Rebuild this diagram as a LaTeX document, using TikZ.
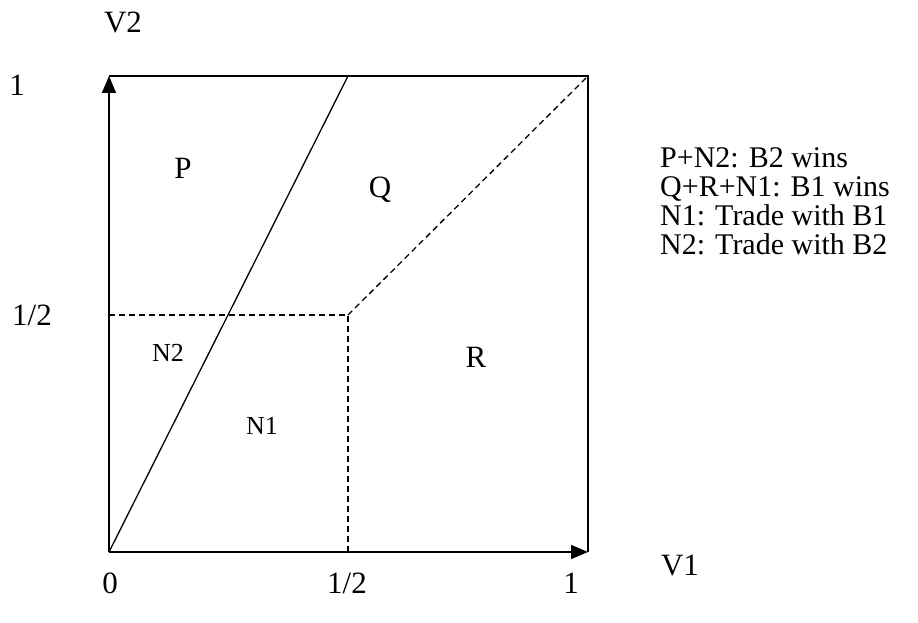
\documentclass[tikz,border=0pt]{standalone}
\usepackage{fontspec}
\setmainfont{Liberation Serif}
\usetikzlibrary{arrows.meta}
\begin{document}
\begin{tikzpicture}[x=1pt,y=-1pt,
  lbl/.style={inner sep=0pt,font=\fontsize{31}{33}\selectfont},
  nlbl/.style={inner sep=0pt,font=\fontsize{26}{28}\selectfont},
  leg/.style={inner sep=0pt,anchor=base west,align=left,font=\fontsize{30}{29}\selectfont},
  frame/.style={line width=1.6pt},
  axis/.style={line width=1.6pt,-{Triangle[length=17pt,width=14pt]}},
  boundary/.style={line width=1.3pt},
  dline/.style={line width=1.3pt,dash pattern=on 6pt off 4pt}]
\useasboundingbox (0,0) rectangle (918,623);
\coordinate (O) at (109,552);
\coordinate (TL) at (109,76);
\coordinate (TR) at (588,76);
\coordinate (BR) at (588,552);
\coordinate (T) at (348,76);
\coordinate (M) at (348,315);
\coordinate (L) at (109,315);
\coordinate (B) at (348,552);
\draw[frame] (TL) -- (TR) -- (BR);
\draw[axis] (O) -- (TL);
\draw[axis] (O) -- (BR);
\draw[boundary] (O) -- (T);
\draw[dline] (L) -- (M) -- (B);
\draw[dline] (M) -- (TR);
\node[lbl] (v2) at (123,22) {V2};
\node[lbl] (y1) at (17,85) {1};
\node[lbl] (yh) at (32,315) {1/2};
\node[lbl] (p) at (183,168) {P};
\node[lbl] (q) at (380,190) {Q};
\node[nlbl] (n2) at (168,353) {N2};
\node[nlbl] (n1) at (262,426) {N1};
\node[lbl] (r) at (476,357) {R};
\node[lbl] (x0) at (110,583) {0};
\node[lbl] (xh) at (347,583) {1/2};
\node[lbl] (x1) at (571,583) {1};
\node[lbl] (v1) at (680,565) {V1};
\node[leg] (legend) at (660,254) {P+N2: B2 wins\\Q+R+N1: B1 wins\\N1: Trade with B1\\N2: Trade with B2};
\end{tikzpicture}
\end{document}
